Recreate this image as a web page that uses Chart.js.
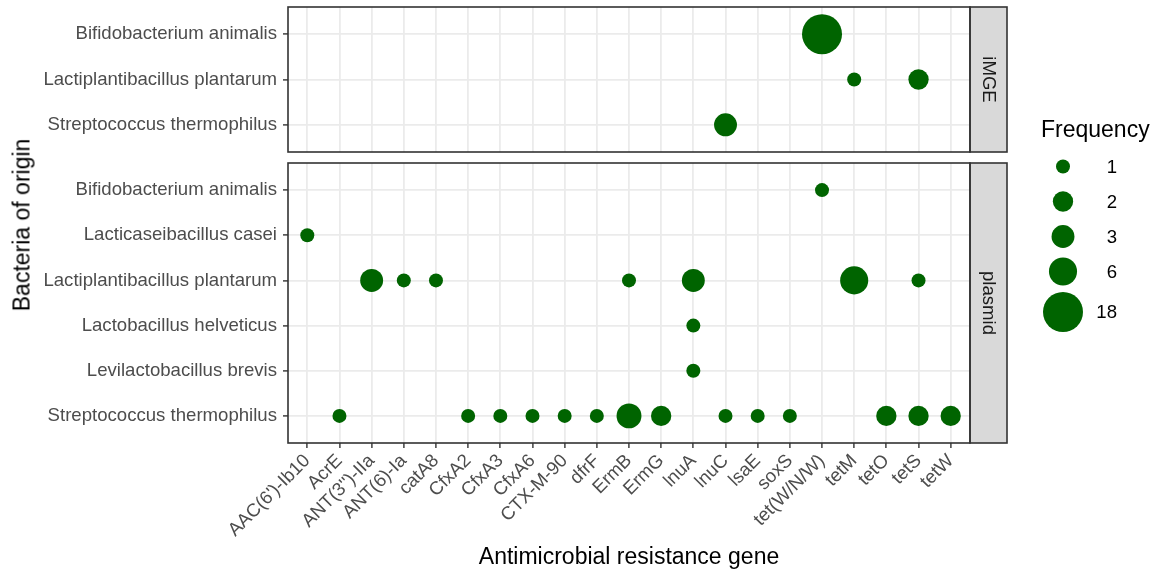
<!DOCTYPE html>
<html>
<head>
<meta charset="utf-8">
<script src="https://cdn.jsdelivr.net/npm/chart.js@4"></script>
<style>
	body { margin: 0; background: #fff; }
	#wrap { position: relative; width: 1158px; height: 571px; }
	#wrap canvas { position: absolute; left: 0; top: 0; }
	#ytitle {
		position: absolute; left: 22px; top: 225px;
		transform: translate(-50%, -50%) rotate(-90deg);
		font: 23px "Liberation Sans", Arial, sans-serif;
		white-space: nowrap; color: #000;
	}
</style>
</head>
<body>
<div id="wrap">
	<canvas id="imge-chart" width="1158" height="571"></canvas>
	<canvas id="plasmid-chart" width="1158" height="571"></canvas>
	<div id="ytitle">Bacteria of origin</div>
</div>
<script>
// genes on the x axis
const genes = ["AAC(6')-Ib10", "AcrE", "ANT(3'')-IIa", "ANT(6)-Ia", "catA8", "CfxA2", "CfxA3",
	"CfxA6", "CTX-M-90", "dfrF", "ErmB", "ErmG", "lnuA", "lnuC", "lsaE", "soxS",
	"tet(W/N/W)", "tetM", "tetO", "tetS", "tetW"];

// bacteria on the y axis of each facet
const imgeHosts = ["Bifidobacterium animalis", "Lactiplantibacillus plantarum", "Streptococcus thermophilus"];
const plasmidHosts = ["Bifidobacterium animalis", "Lacticaseibacillus casei", "Lactiplantibacillus plantarum",
	"Lactobacillus helveticus", "Levilactobacillus brevis", "Streptococcus thermophilus"];

// iMGE facet
const imgeGene = ["tet(W/N/W)", "tetM", "tetS", "lnuC"];
const imgeHost = ["Bifidobacterium animalis", "Lactiplantibacillus plantarum",
	"Lactiplantibacillus plantarum", "Streptococcus thermophilus"];
const imgeFreq = [18, 1, 2, 3];

// plasmid facet
const plasmidGene = ["tet(W/N/W)", "AAC(6')-Ib10",
	"ANT(3'')-IIa", "ANT(6)-Ia", "catA8", "ErmB", "lnuA", "tetM", "tetS",
	"lnuA", "lnuA",
	"AcrE", "CfxA2", "CfxA3", "CfxA6", "CTX-M-90", "dfrF", "ErmB", "ErmG",
	"lnuC", "lsaE", "soxS", "tetO", "tetS", "tetW"];
const plasmidHost = ["Bifidobacterium animalis", "Lacticaseibacillus casei",
	"Lactiplantibacillus plantarum", "Lactiplantibacillus plantarum", "Lactiplantibacillus plantarum",
	"Lactiplantibacillus plantarum", "Lactiplantibacillus plantarum", "Lactiplantibacillus plantarum",
	"Lactiplantibacillus plantarum",
	"Lactobacillus helveticus", "Levilactobacillus brevis",
	"Streptococcus thermophilus", "Streptococcus thermophilus", "Streptococcus thermophilus",
	"Streptococcus thermophilus", "Streptococcus thermophilus", "Streptococcus thermophilus",
	"Streptococcus thermophilus", "Streptococcus thermophilus", "Streptococcus thermophilus",
	"Streptococcus thermophilus", "Streptococcus thermophilus", "Streptococcus thermophilus",
	"Streptococcus thermophilus", "Streptococcus thermophilus"];
const plasmidFreq = [1, 1,
	3, 1, 1, 1, 3, 6, 1,
	1, 1,
	1, 1, 1, 1, 1, 1, 4, 2,
	1, 1, 1, 2, 2, 2];

const legendBreaks = [1, 2, 3, 6, 18];

Chart.defaults.font.family = '"Liberation Sans", Arial, sans-serif';

const FONT = '"Liberation Sans", Arial, sans-serif';
const minFreq = 1, maxFreq = 18;

// ggplot style area scale: radius 7..20 px
function bubbleRadius(f) {
	return 7 + 13 * Math.sqrt((f - minFreq) / (maxFreq - minFreq));
}

function toPoints(geneList, hostList, freqList, hosts) {
	return geneList.map((g, i) => ({
		x: genes.indexOf(g),
		y: hosts.indexOf(hostList[i]),
		freq: freqList[i],
	}));
}

function noPadding(scale) {
	scale.paddingTop = 0;
	scale.paddingBottom = 0;
	scale.paddingLeft = 0;
	scale.paddingRight = 0;
}

// panel border + grey strip on the right
const facetFrame = {
	id: "facetFrame",
	afterDraw(chart, args, opts) {
		const { ctx, chartArea: a } = chart;
		const w = 37;
		ctx.save();
		ctx.fillStyle = "#d9d9d9";
		ctx.fillRect(a.right, a.top, w, a.bottom - a.top);
		ctx.strokeStyle = "#333333";
		ctx.lineWidth = 1.6;
		ctx.strokeRect(a.left, a.top, a.right - a.left, a.bottom - a.top);
		ctx.strokeRect(a.right, a.top, w, a.bottom - a.top);
		ctx.translate(a.right + w / 2, (a.top + a.bottom) / 2);
		ctx.rotate(Math.PI / 2);
		ctx.fillStyle = "#1a1a1a";
		ctx.font = "18.6px " + FONT;
		ctx.textAlign = "center";
		ctx.textBaseline = "middle";
		ctx.fillText(opts.label, 0, 0);
		ctx.restore();
	},
};

// size legend
const sizeLegend = {
	id: "sizeLegend",
	afterDraw(chart) {
		const ctx = chart.ctx;
		ctx.save();
		ctx.fillStyle = "#000";
		ctx.font = "23px " + FONT;
		ctx.textAlign = "left";
		ctx.textBaseline = "alphabetic";
		ctx.fillText("Frequency", 1041, 136.5);
		let y = 149;
		ctx.font = "18.6px " + FONT;
		ctx.textAlign = "right";
		ctx.textBaseline = "middle";
		legendBreaks.forEach((b) => {
			const r = bubbleRadius(b);
			const h = Math.max(35, 2 * r + 6);
			const cy = y + h / 2;
			ctx.fillStyle = "#006400";
			ctx.beginPath();
			ctx.arc(1063, cy, r, 0, Math.PI * 2);
			ctx.fill();
			ctx.fillStyle = "#000";
			ctx.fillText(String(b), 1117, cy + 1);
			y += h;
		});
		ctx.restore();
	},
};

function makeChart(canvasId, hosts, points, label, isBottom) {
	return new Chart(document.getElementById(canvasId), {
		type: "bubble",
		data: {
			datasets: [
				{
					data: points,
					backgroundColor: "#006400",
					borderWidth: 0,
					radius: (ctx) => bubbleRadius(ctx.raw.freq),
					hoverRadius: 0,
				},
			],
		},
		plugins: isBottom ? [facetFrame, sizeLegend] : [facetFrame],
		options: {
			responsive: false,
			animation: false,
			events: [],
			layout: {
				autoPadding: false,
				padding: isBottom
					? { top: 163, right: 188, bottom: 0, left: 0 }
					: { top: 7, right: 188, bottom: 419, left: 0 },
			},
			plugins: {
				legend: { display: false },
				tooltip: { enabled: false },
				facetFrame: { label: label },
			},
			scales: {
				x: {
					type: "linear",
					min: -0.6,
					max: genes.length - 1 + 0.6,
					afterBuildTicks: (s) => {
						s.ticks = genes.map((g, i) => ({ value: i }));
					},
					afterFit: (s) => {
						s.height = isBottom ? 128 : 0;
						noPadding(s);
					},
					ticks: {
						display: isBottom,
						autoSkip: false,
						minRotation: 45,
						maxRotation: 45,
						padding: 2,
						color: "#4d4d4d",
						font: { size: 18.6 },
						callback: (v) => genes[v],
					},
					grid: {
						color: "#ebebeb",
						lineWidth: 1.8,
						drawTicks: isBottom,
						tickColor: "#333333",
						tickLength: 5,
						tickWidth: 1.4,
					},
					border: { display: false },
					title: {
						display: isBottom,
						text: "Antimicrobial resistance gene",
						color: "#000",
						font: { size: 23 },
						padding: { top: 0, bottom: 0 },
					},
				},
				y: {
					type: "linear",
					reverse: true,
					min: -0.6,
					max: hosts.length - 1 + 0.6,
					afterBuildTicks: (s) => {
						s.ticks = hosts.map((h, i) => ({ value: i }));
					},
					afterFit: (s) => {
						s.width = 288;
						noPadding(s);
					},
					ticks: {
						padding: 6,
						color: "#4d4d4d",
						font: { size: 18.6 },
						callback: (v) => hosts[v],
					},
					grid: {
						color: "#ebebeb",
						lineWidth: 1.8,
						tickColor: "#333333",
						tickLength: 5,
						tickWidth: 1.4,
					},
					border: { display: false },
				},
			},
		},
	});
}

makeChart("imge-chart", imgeHosts, toPoints(imgeGene, imgeHost, imgeFreq, imgeHosts), "iMGE", false);
makeChart("plasmid-chart", plasmidHosts, toPoints(plasmidGene, plasmidHost, plasmidFreq, plasmidHosts), "plasmid", true);
</script>
</body>
</html>
